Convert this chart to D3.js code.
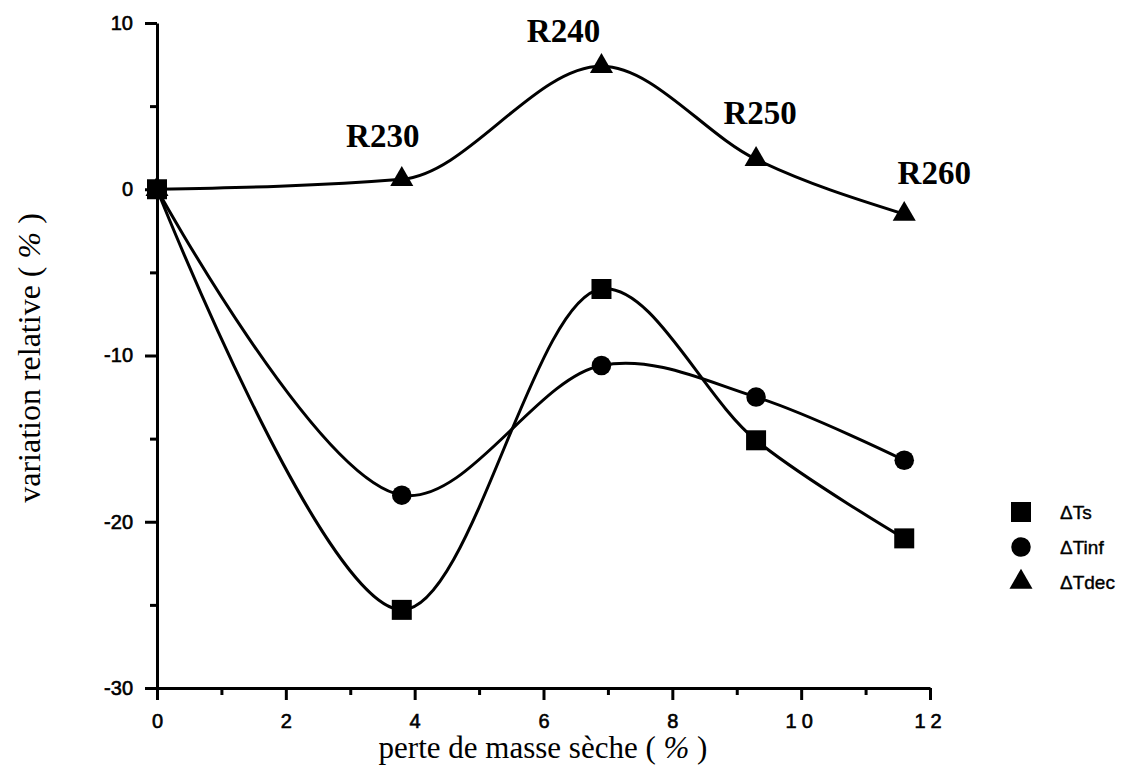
<!DOCTYPE html>
<html><head><meta charset="utf-8">
<script src="https://cdn.jsdelivr.net/npm/d3@7"></script>
<style>body{margin:0;background:#fff}</style>
</head><body>
<svg id="c" width="1141" height="767"></svg>
<script>
const xValues = [0, 3.8, 6.9, 9.3, 11.6];
const tsValues = [0, -25.3, -6.0, -15.1, -21.0];
const tinfValues = [0, -18.4, -10.6, -12.5, -16.3];
const tdecValues = [0, 0.6, 7.4, 1.8, -1.5];
const pointLabels = ["", "R230", "R240", "R250", "R260"];
const xTicks = [0, 2, 4, 6, 8, 10, 12];
const xMinorTicks = [1, 3, 5, 7, 9, 11];
const yTicks = [10, 0, -10, -20, -30];
const yMinorTicks = [5, -5, -15, -25];
const seriesNames = ["\u0394Ts", "\u0394Tinf", "\u0394Tdec"];
const labelDx = [0, -19, -38, 4, 30];
const labelDy = [0, -32, -24, -35, -30];

const svg = d3.select("#c");
const x = d3.scaleLinear().domain([0, 12]).range([157, 930]);
const y = d3.scaleLinear().domain([-30, 10]).range([688, 23]);

const sans = "'Liberation Sans', Arial, sans-serif";
const serif = "'Liberation Serif', 'Times New Roman', serif";

// axes
const gx = svg.append("g").attr("transform", `translate(0,${y(-30)})`)
  .call(d3.axisBottom(x).tickValues(xTicks).tickFormat(d => String(d)).tickSize(12).tickSizeOuter(0).tickPadding(14));
const gxm = svg.append("g").attr("transform", `translate(0,${y(-30)})`)
  .call(d3.axisBottom(x).tickValues(xMinorTicks).tickSize(7).tickFormat(""));
const gy = svg.append("g").attr("transform", `translate(${x(0)},0)`)
  .call(d3.axisLeft(y).tickValues(yTicks).tickFormat(d => String(d)).tickSize(12).tickSizeOuter(0).tickPadding(12));
const gym = svg.append("g").attr("transform", `translate(${x(0)},0)`)
  .call(d3.axisLeft(y).tickValues(yMinorTicks).tickSize(7).tickFormat(""));
[gx, gxm, gy, gym].forEach(g => {
  g.selectAll("path").attr("stroke", "#000").attr("stroke-width", 3);
  g.selectAll("line").attr("stroke", "#000").attr("stroke-width", 3);
  g.selectAll("text").attr("fill", "#000").attr("stroke", "#000").attr("stroke-width", 0.6)
    .style("font-family", sans).style("font-size", "20px");
});
gxm.select("path").remove(); gym.select("path").remove();
gx.selectAll("text").attr("letter-spacing", d => d >= 10 ? "5px" : "0px");

// curves
const lineCR = d3.line().x(d => x(d[0])).y(d => y(d[1])).curve(d3.curveCatmullRom.alpha(0.5));
const lineMono = d3.line().x(d => x(d[0])).y(d => y(d[1])).curve(d3.curveMonotoneX);
const series = [tsValues, tinfValues, tdecValues];
const gens = [lineCR, lineCR, lineMono];
series.forEach((vals, si) => {
  svg.append("path").datum(xValues.map((xv, i) => [xv, vals[i]]))
    .attr("d", gens[si]).attr("fill", "none").attr("stroke", "#000").attr("stroke-width", 3);
});

const sym = [d3.symbolSquare, d3.symbolCircle, d3.symbolTriangle];
const symSize = [400, 300, 230];
[2, 1, 0].forEach(si => {
  svg.append("g").selectAll("path").data(xValues.map((xv, i) => [xv, series[si][i]]))
    .join("path")
    .attr("transform", d => `translate(${x(d[0])},${y(d[1])})`)
    .attr("d", d3.symbol(sym[si], symSize[si])).attr("fill", "#000");
});

// point labels
svg.append("g").selectAll("text").data(xValues.map((xv, i) => ({xv, v: tdecValues[i], t: pointLabels[i], i})).filter(d => d.t))
  .join("text")
  .attr("x", d => x(d.xv) + labelDx[d.i]).attr("y", d => y(d.v) + labelDy[d.i])
  .attr("text-anchor", "middle")
  .style("font-family", serif).style("font-weight", "bold").style("font-size", "33px")
  .text(d => d.t);

// axis titles
const xt = svg.append("text").attr("x", 543).attr("y", 758).attr("text-anchor", "middle")
  .style("font-family", serif).style("font-size", "31px");
xt.append("tspan").text("perte de masse sèche ( ");
xt.append("tspan").style("font-style", "italic").text("%");
xt.append("tspan").text(" )");

const yt = svg.append("text").attr("transform", "translate(40,358) rotate(-90)").attr("text-anchor", "middle")
  .style("font-family", serif).style("font-size", "32px");
yt.append("tspan").text("variation relative ( ");
yt.append("tspan").style("font-style", "italic").text("%");
yt.append("tspan").text(" )");

// legend
const leg = svg.append("g");
seriesNames.forEach((n, i) => {
  const cy = 512 + i * 35;
  leg.append("path").attr("transform", `translate(1021,${cy})`)
    .attr("d", d3.symbol(sym[i], symSize[i])).attr("fill", "#000");
  leg.append("text").attr("x", 1060).attr("y", cy + 7)
    .attr("stroke", "#000").attr("stroke-width", 0.4)
    .style("font-family", sans).style("font-size", "19px").text(n);
});
</script>
</body></html>
